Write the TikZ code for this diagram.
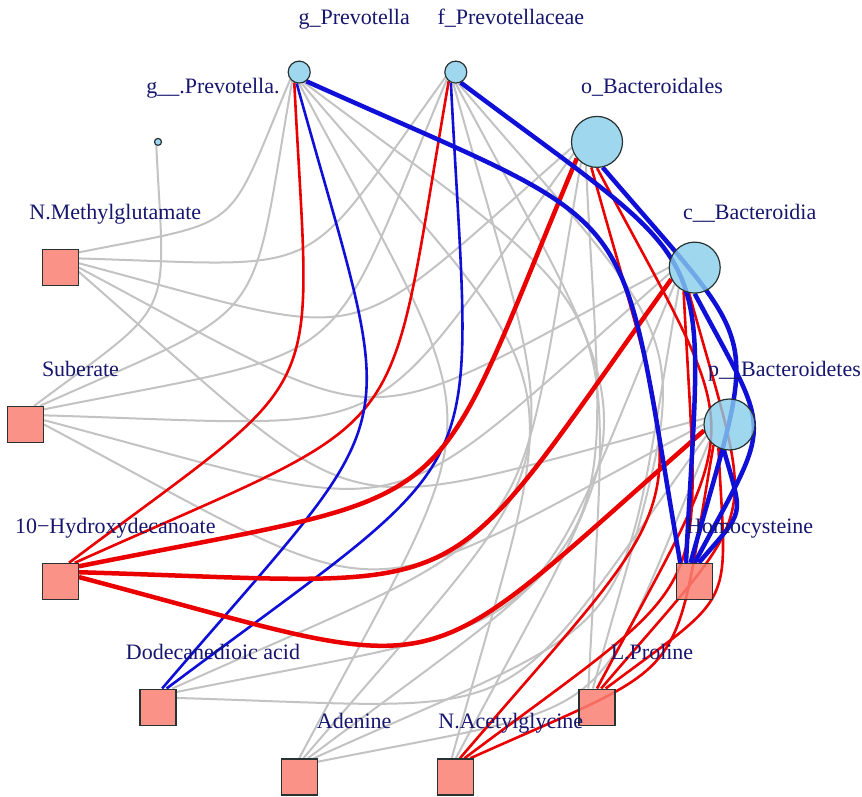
\documentclass[tikz,border=0pt]{standalone}
\usepackage{fontspec}
\setmainfont{Liberation Serif}
\definecolor{labc}{RGB}{22,22,110}
\definecolor{eg}{RGB}{195,195,195}
\definecolor{er}{RGB}{235,0,0}
\definecolor{eb}{RGB}{15,15,215}
\definecolor{sky}{RGB}{135,206,235}
\definecolor{salm}{RGB}{250,128,114}
\definecolor{bord}{RGB}{40,50,50}
\pgfdeclarelayer{bg}
\pgfdeclarelayer{edges}
\pgfsetlayers{bg,edges,main}
% connector from node #2 to node #3, clipped along the chord, curved to the right
\newcommand\lnk[3]{%
  \path (#2) -- (#3) coordinate[pos=0] (lnkS) coordinate[pos=1] (lnkT);
  \draw[#1] (lnkS) to[e] (lnkT);}
\begin{document}
\begin{tikzpicture}[x=1pt,y=-1pt,
 tax/.style={circle, draw=bord, line width=1.2pt, fill=sky, fill opacity=0.8, inner sep=0pt},
 met/.style={rectangle, draw=bord, line width=1.2pt, fill=salm, fill opacity=0.85, inner sep=0pt, minimum size=36pt},
 lab/.style={text=labc, font=\fontsize{22}{26}\selectfont, anchor=base, inner sep=0pt},
 e/.style={bend right=28, looseness=1.6},
 gE/.style={draw=eg, line width=2pt},
 rE/.style={draw=er, line width=2.6pt},
 RE/.style={draw=er, line width=4.5pt},
 bE/.style={draw=eb, line width=2.6pt},
 BE/.style={draw=eb, line width=4.5pt},
]
\begin{pgfonlayer}{bg}
\fill[white] (0,0) rectangle (862,797);
\end{pgfonlayer}
\useasboundingbox (0,0) rectangle (862,797);

% taxa
\node[tax, minimum size=22pt] (gp) at (299.2,72.1) {};
\node[tax, minimum size=22pt] (fp) at (455.8,72.1) {};
\node[tax, minimum size=51pt] (ob) at (597.0,141.9) {};
\node[tax, minimum size=51pt] (cb) at (694.7,267.6) {};
\node[tax, minimum size=51pt] (pb) at (729.5,424.5) {};
\node[tax, minimum size=7pt] (gd) at (158.0,141.9) {};
% metabolites
\node[met] (hcy) at (694.7,581.4) {};
\node[met] (pro) at (597.0,707.1) {};
\node[met] (nag) at (455.8,776.9) {};
\node[met] (ade) at (299.2,776.9) {};
\node[met] (ddc) at (158.0,707.1) {};
\node[met] (hda) at (60.3,581.4) {};
\node[met] (sub) at (25.5,424.5) {};
\node[met] (nmg) at (60.3,267.6) {};

\begin{pgfonlayer}{edges}
% grey edges
\lnk{gE}{nmg}{gp} \lnk{gE}{nmg}{fp} \lnk{gE}{nmg}{ob} \lnk{gE}{nmg}{cb} \lnk{gE}{nmg}{pb}
\lnk{gE}{sub}{gp} \lnk{gE}{sub}{fp} \lnk{gE}{sub}{ob} \lnk{gE}{sub}{cb} \lnk{gE}{sub}{pb}
\lnk{gE}{sub}{gd}
\lnk{gE}{ade}{gp} \lnk{gE}{ade}{fp} \lnk{gE}{ade}{ob} \lnk{gE}{ade}{cb} \lnk{gE}{ade}{pb}
\lnk{gE}{ddc}{ob} \lnk{gE}{ddc}{cb} \lnk{gE}{ddc}{pb}
\lnk{gE}{pro}{gp} \lnk{gE}{pro}{fp}
\lnk{gE}{nag}{gp} \lnk{gE}{nag}{fp}
% thin red
\lnk{rE}{hda}{gp} \lnk{rE}{hda}{fp}
\lnk{rE}{pro}{ob} \lnk{rE}{pro}{cb} \lnk{rE}{pro}{pb}
\lnk{rE}{nag}{ob} \lnk{rE}{nag}{cb} \lnk{rE}{nag}{pb}
% thin blue
\lnk{bE}{ddc}{gp} \lnk{bE}{ddc}{fp}
% thick red
\lnk{RE}{hda}{ob} \lnk{RE}{hda}{cb} \lnk{RE}{hda}{pb}
% thick blue
\lnk{BE}{hcy}{gp} \lnk{BE}{hcy}{fp} \lnk{BE}{hcy}{ob} \lnk{BE}{hcy}{cb} \lnk{BE}{hcy}{pb}
\end{pgfonlayer}

% labels
\node[lab] (gpL) at (354.2,24.1) {g\_Prevotella};
\node[lab] (fpL) at (510.8,24.1) {f\_Prevotellaceae};
\node[lab] (obL) at (652.0,93.9) {o\_Bacteroidales};
\node[lab] (cbL) at (749.7,219.6) {c\_\_Bacteroidia};
\node[lab] (pbL) at (784.5,376.5) {p\_\_Bacteroidetes};
\node[lab] (gdL) at (213.0,93.9) {g\_\_.Prevotella.};
\node[lab] (hcyL) at (749.7,533.4) {Homocysteine};
\node[lab] (proL) at (652.0,659.1) {L.Proline};
\node[lab] (nagL) at (510.8,728.9) {N.Acetylglycine};
\node[lab] (adeL) at (354.2,728.9) {Adenine};
\node[lab] (ddcL) at (213.0,659.1) {Dodecanedioic acid};
\node[lab] (hdaL) at (115.3,533.4) {10−Hydroxydecanoate};
\node[lab] (subL) at (80.5,376.5) {Suberate};
\node[lab] (nmgL) at (115.3,219.6) {N.Methylglutamate};
\end{tikzpicture}
\end{document}
